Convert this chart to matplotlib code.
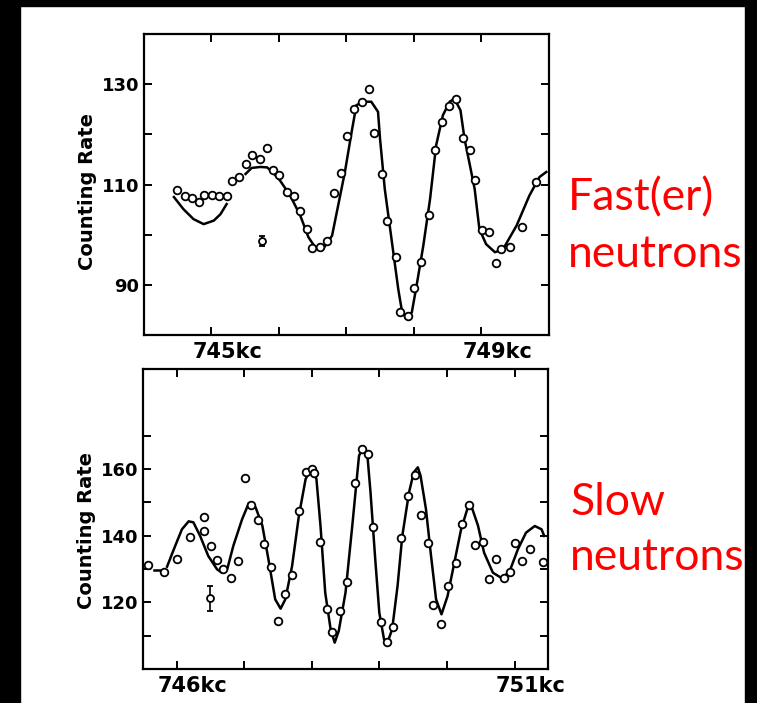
import matplotlib.pyplot as plt
from matplotlib.patches import Rectangle

# --- upper panel: faster neutrons ---
fast_x = [744.50, 744.61, 744.72, 744.82, 744.90, 745.01, 745.11, 745.23, 745.31, 745.42,
          745.52, 745.61, 745.72, 745.83, 745.92, 746.01, 746.12, 746.22, 746.31, 746.42,
          746.50, 746.61, 746.71, 746.82, 746.92, 747.01, 747.11, 747.23, 747.33, 747.41,
          747.53, 747.61, 747.73, 747.79, 747.92, 748.00, 748.10, 748.22, 748.32, 748.42,
          748.52, 748.63, 748.73, 748.83, 748.91, 749.01, 749.11, 749.21, 749.29, 749.43,
          749.60, 749.81]
fast_y = [109.0, 107.8, 107.3, 106.5, 107.9, 108.0, 107.8, 107.8, 110.6, 111.5,
          114.0, 115.8, 115.1, 117.3, 112.9, 111.8, 108.5, 107.8, 104.8, 101.1,
          97.3, 97.5, 98.7, 108.3, 112.3, 119.6, 125.1, 126.5, 129.0, 120.3,
          112.1, 102.8, 95.5, 84.6, 83.8, 89.3, 94.6, 103.9, 116.8, 122.5,
          125.6, 127.0, 119.3, 116.9, 110.9, 100.9, 100.5, 94.3, 97.1, 97.5,
          101.6, 110.5]

# fitted curve (two pieces)
fast_fit1_x = [744.45, 744.59, 744.74, 744.89, 745.04, 745.14, 745.23]
fast_fit1_y = [107.5, 105.1, 103.1, 102.1, 102.8, 104.1, 106.1]

fast_fit2_x = [745.51, 745.60, 745.73, 745.83, 745.92, 746.02, 746.17, 746.32, 746.44,
               746.55, 746.65, 746.79, 746.88, 746.98, 747.08, 747.15, 747.25, 747.37,
               747.47, 747.50, 747.57, 747.67, 747.77, 747.82, 747.88, 747.97, 748.04,
               748.14, 748.24, 748.33, 748.43, 748.53, 748.60, 748.69, 748.75, 748.83,
               748.90, 748.97, 749.07, 749.20, 749.32, 749.52, 749.71, 749.86, 749.96]
fast_fit2_y = [112.1, 113.3, 113.5, 113.4, 112.3, 110.8, 107.8, 103.8, 99.5,
               97.3, 97.0, 99.8, 105.8, 112.5, 120.5, 125.8, 126.5, 126.5,
               124.5, 119.1, 109.1, 99.1, 89.1, 85.1, 83.3, 84.5, 89.8,
               97.8, 107.1, 117.8, 123.8, 126.5, 127.1, 124.8, 119.1, 113.8,
               109.1, 101.1, 98.1, 96.5, 97.1, 101.8, 107.8, 111.5, 112.5]

fast_err_x, fast_err_y, fast_err = [745.75], [98.8], [1.0]

# --- lower panel: slow neutrons ---
slow_x = [745.58, 745.81, 746.00, 746.20, 746.41, 746.40, 746.51, 746.60, 746.69, 746.80,
          746.91, 747.01, 747.10, 747.21, 747.30, 747.40, 747.50, 747.61, 747.71, 747.81,
          747.91, 748.00, 748.04, 748.12, 748.22, 748.30, 748.42, 748.52, 748.64, 748.74,
          748.84, 748.91, 749.02, 749.12, 749.20, 749.32, 749.43, 749.53, 749.62, 749.72,
          749.80, 749.91, 750.02, 750.13, 750.22, 750.33, 750.42, 750.53, 750.62, 750.73,
          750.84, 750.93, 751.01, 751.11, 751.23, 751.42]
slow_y = [131.2, 129.2, 132.9, 139.5, 145.5, 141.4, 136.8, 132.7, 129.9, 127.2,
          132.4, 157.2, 149.3, 144.7, 137.4, 130.6, 114.4, 122.4, 128.2, 147.5,
          159.0, 160.0, 158.8, 138.1, 118.1, 111.1, 117.4, 126.1, 155.8, 166.0,
          164.5, 142.6, 114.1, 108.1, 112.7, 139.2, 152.0, 158.3, 146.2, 137.7,
          119.2, 113.4, 124.9, 131.9, 143.5, 149.3, 137.2, 138.1, 126.9, 132.9,
          127.4, 129.1, 137.7, 132.4, 135.9, 132.1]

slow_fit1_x = [745.66, 745.76]
slow_fit1_y = [129.6, 129.6]

slow_fit2_x = [745.86, 745.98, 746.08, 746.18, 746.25, 746.35, 746.47, 746.60, 746.67,
               746.75, 746.84, 746.97, 747.07, 747.17, 747.27, 747.36, 747.46, 747.54,
               747.61, 747.71, 747.81, 747.91, 748.00, 748.07, 748.13, 748.20, 748.28,
               748.34, 748.40, 748.50, 748.60, 748.70, 748.77, 748.82, 748.87, 748.94,
               749.00, 749.07, 749.12, 749.19, 749.27, 749.34, 749.44, 749.51, 749.57,
               749.61, 749.69, 749.76, 749.84, 749.92, 750.01, 750.11, 750.21, 750.31,
               750.36, 750.46, 750.55, 750.68, 750.80, 750.92, 751.05, 751.17, 751.30,
               751.40, 751.44]
slow_fit2_y = [130.7, 136.9, 141.9, 144.3, 144.0, 139.9, 133.9, 129.9, 128.9,
               129.9, 136.9, 144.9, 149.8, 148.5, 143.0, 132.9, 120.9, 118.1,
               120.9, 130.9, 145.9, 157.0, 160.5, 157.0, 143.0, 122.9, 111.9,
               107.9, 111.4, 122.9, 142.9, 164.0, 166.8, 165.0, 153.0, 132.9,
               116.9, 108.9, 107.9, 111.9, 124.9, 139.9, 153.0, 159.0, 160.5,
               158.0, 148.0, 134.9, 120.9, 116.4, 121.9, 131.9, 141.9, 148.5,
               149.0, 143.0, 134.9, 128.9, 127.4, 128.9, 135.9, 140.9, 142.9,
               141.9, 139.9]

slow_err_x, slow_err_y, slow_err = [746.50], [121.2], [3.7]

W, H = 757, 703
fig = plt.figure(figsize=(W / 100, H / 100), dpi=100)
fig.patch.set_facecolor('white')

ax1 = fig.add_axes([143.5 / W, 1 - 335 / H, 405.5 / W, 301 / H])
ax2 = fig.add_axes([142.7 / W, 1 - 669 / H, 405.6 / W, 300 / H])

mk = dict(linestyle='none', marker='o', ms=5.5, mfc='white', mec='black', mew=1.3, zorder=3)
ln = dict(color='black', lw=1.8, zorder=2)

ax1.plot(fast_fit1_x, fast_fit1_y, **ln)
ax1.plot(fast_fit2_x, fast_fit2_y, **ln)
ax1.plot(fast_x, fast_y, **mk)
ax1.errorbar(fast_err_x, fast_err_y, yerr=fast_err, fmt='o', ms=5, mfc='white', mec='black',
             mew=1.3, ecolor='black', elinewidth=1.2, capsize=2.5, capthick=1.2, zorder=3)

ax2.plot(slow_fit1_x, slow_fit1_y, **ln)
ax2.plot(slow_fit2_x, slow_fit2_y, **ln)
ax2.plot(slow_x, slow_y, **mk)
ax2.errorbar(slow_err_x, slow_err_y, yerr=slow_err, fmt='o', ms=5, mfc='white', mec='black',
             mew=1.3, ecolor='black', elinewidth=1.2, capsize=2.5, capthick=1.2, zorder=3)

ax1.set_xlim(744, 750)
ax1.set_ylim(80, 140)
ax1.set_xticks([745, 746, 747, 748, 749])
ax1.set_yticks([90, 100, 110, 120, 130])
ax1.set_yticklabels(['90', '', '110', '', '130'])

ax2.set_xlim(745.5, 751.5)
ax2.set_ylim(100, 190)
ax2.set_xticks([746, 747, 748, 749, 750, 751])
ax2.set_yticks([110, 120, 130, 140, 150, 160, 170])
ax2.set_yticklabels(['', '120', '', '140', '', '160', ''])

for ax, lo, hi, ylab_y in [(ax1, '745kc', '749kc', 0.478), (ax2, '746kc', '751kc', 0.463)]:
    ax.set_xticklabels([])
    for s in ax.spines.values():
        s.set_linewidth(1.6)
    ax.tick_params(direction='in', top=True, right=True, length=6, width=1.4,
                   labelsize=13, pad=3)
    for t in ax.get_yticklabels():
        t.set_fontweight('bold')
    ticks = ax.get_xticks()
    for xv, lab in [(ticks[0], lo), (ticks[-1], hi)]:
        ax.annotate(lab, xy=(xv, 0), xycoords=('data', 'axes fraction'),
                    xytext=(-13.5, -5), textcoords='offset points',
                    ha='left', va='top', fontsize=15, fontweight='bold')
    ax.text(-0.139, ylab_y, 'Counting Rate', transform=ax.transAxes, rotation=90,
            ha='center', va='center', fontsize=14, fontweight='bold')

red = dict(color='red', fontsize=32, family='Lato', va='baseline', ha='left')
fig.text(568 / W, 1 - 210 / H, 'Fast(er)', **red)
fig.text(568 / W, 1 - 267 / H, 'neutrons', **red)
fig.text(570 / W, 1 - 515 / H, 'Slow', **red)
fig.text(570 / W, 1 - 570 / H, 'neutrons', **red)

# black slide borders
for x0, y0, w, h in [(0, 0, 20, H), (0, H - 6, W, 6), (745, 0, 12, H)]:
    fig.add_artist(Rectangle((x0 / W, y0 / H), w / W, h / H, transform=fig.transFigure,
                             color='black', zorder=10))

fig.savefig('out.png', dpi=100)
